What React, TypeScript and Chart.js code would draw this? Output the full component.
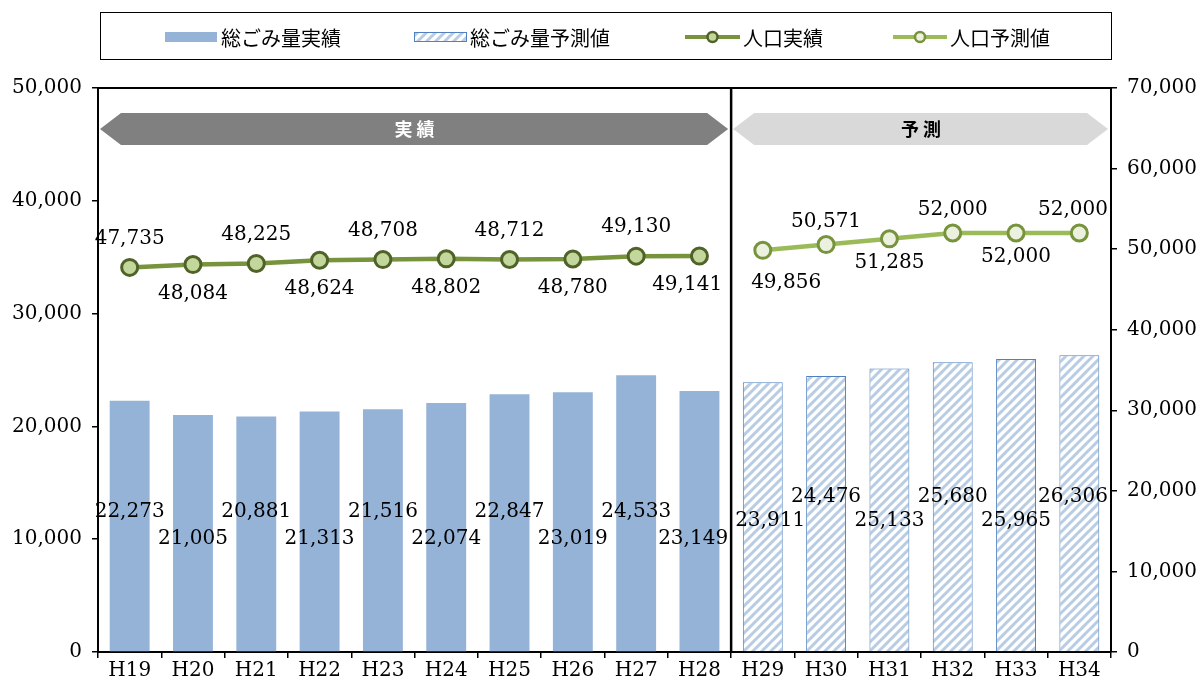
import React, { useEffect, useRef } from "react";
import { Chart, registerables } from "chart.js";

Chart.register(...registerables);

const categories = ["H19", "H20", "H21", "H22", "H23", "H24", "H25", "H26", "H27", "H28", "H29", "H30", "H31", "H32", "H33", "H34"];
const wasteActual = [22273, 21005, 20881, 21313, 21516, 22074, 22847, 23019, 24533, 23149];
const wasteForecast = [23911, 24476, 25133, 25680, 25965, 26306];
const popActual = [47735, 48084, 48225, 48624, 48708, 48802, 48712, 48780, 49130, 49141];
const popForecast = [49856, 50571, 51285, 52000, 52000, 52000];
const legendLabels = ["総ごみ量実績", "総ごみ量予測値", "人口実績", "人口予測値"];
const bannerLabels = ["実 績", "予 測"];

const nActual = wasteActual.length;
const pad = (n: number) => new Array(n).fill(null);
const fmt = (v: number) => v.toLocaleString("en-US");

const NUM_FONT = '20px "DejaVu Serif"';
const JP_FONT = '20px "Noto Sans CJK JP"';

function makePattern(): CanvasPattern | string {
  const c = document.createElement("canvas");
  const s = 9;
  c.width = s;
  c.height = s;
  const g = c.getContext("2d");
  if (!g) return "#b8cce4";
  g.fillStyle = "#ffffff";
  g.fillRect(0, 0, s, s);
  g.strokeStyle = "#b8cce4";
  g.lineWidth = 3;
  g.beginPath();
  g.moveTo(-2, s + 2);
  g.lineTo(s + 2, -2);
  g.moveTo(-2, 2);
  g.lineTo(2, -2);
  g.moveTo(s - 2, s + 2);
  g.lineTo(s + 2, s - 2);
  g.stroke();
  const p = g.createPattern(c, "repeat");
  return p || "#b8cce4";
}

function drawBanner(ctx: CanvasRenderingContext2D, x0: number, x1: number, yMid: number, h: number, tip: number, fill: string) {
  ctx.beginPath();
  ctx.moveTo(x0, yMid);
  ctx.lineTo(x0 + tip, yMid - h / 2);
  ctx.lineTo(x1 - tip, yMid - h / 2);
  ctx.lineTo(x1, yMid);
  ctx.lineTo(x1 - tip, yMid + h / 2);
  ctx.lineTo(x0 + tip, yMid + h / 2);
  ctx.closePath();
  ctx.fillStyle = fill;
  ctx.fill();
}

const customPlugin = {
  id: "custom",
  afterDatasetsDraw(chart: any) {
    const ctx: CanvasRenderingContext2D = chart.ctx;
    const area = chart.chartArea;
    const xs = chart.scales.x;
    const ys = chart.scales.y;
    const divX = (xs.getPixelForValue(nActual - 1) + xs.getPixelForValue(nActual)) / 2;

    ctx.save();
    // banners
    const yMid = area.top + 41;
    drawBanner(ctx, area.left + 2, divX - 3, yMid, 32, 21, "#808080");
    drawBanner(ctx, divX + 2, area.right - 3, yMid, 32, 21, "#d9d9d9");
    ctx.font = 'bold 18px "Noto Sans CJK JP"';
    ctx.textAlign = "center";
    ctx.textBaseline = "middle";
    ctx.fillStyle = "#ffffff";
    ctx.fillText(bannerLabels[0], (area.left + divX) / 2, yMid);
    ctx.fillStyle = "#000000";
    ctx.fillText(bannerLabels[1], (divX + area.right) / 2, yMid);

    // labels
    ctx.font = NUM_FONT;
    ctx.fillStyle = "#000000";
    const placeText = (text: string, cx: number, cy: number, forecast: boolean, mLeft: number, mRight: number) => {
      const w = ctx.measureText(text).width;
      let x = cx;
      if (!forecast) {
        if (x + w / 2 > divX - mLeft) x = divX - mLeft - w / 2;
      } else {
        if (x - w / 2 < divX + mRight) x = divX + mRight + w / 2;
        if (x + w / 2 > area.right - 3) x = area.right - 3 - w / 2;
      }
      ctx.fillText(text, x, cy);
    };

    // bar labels
    const barMetaA = chart.getDatasetMeta(0);
    const barMetaF = chart.getDatasetMeta(1);
    wasteActual.forEach((v, i) => {
      const el = barMetaA.data[i];
      const y = ys.getPixelForValue(i % 2 === 0 ? 12400 : 10000);
      placeText(fmt(v), el.x, y, false, 3, 4);
    });
    wasteForecast.forEach((v, j) => {
      const el = barMetaF.data[nActual + j];
      const y = ys.getPixelForValue(j % 2 === 0 ? 11600 : 13800);
      placeText(fmt(v), el.x, y, true, 3, 4);
    });

    // line labels
    const lineMetaA = chart.getDatasetMeta(2);
    const lineMetaF = chart.getDatasetMeta(3);
    popActual.forEach((v, i) => {
      const el = lineMetaA.data[i];
      const y = el.y + (i % 2 === 0 ? -29 : 29);
      placeText(fmt(v), el.x, y, false, 9, 20);
    });
    popForecast.forEach((v, j) => {
      const el = lineMetaF.data[nActual + j];
      const y = el.y + (j % 2 === 0 ? (j === 0 ? 32 : 24) : -23);
      placeText(fmt(v), el.x, y, true, 9, 20);
    });

    // divider & plot border
    ctx.strokeStyle = "#000000";
    ctx.lineWidth = 2.5;
    ctx.beginPath();
    ctx.moveTo(divX, area.top);
    ctx.lineTo(divX, area.bottom);
    ctx.stroke();
    ctx.lineWidth = 2;
    ctx.beginPath();
    ctx.moveTo(area.left, area.top);
    ctx.lineTo(area.right, area.top);
    ctx.stroke();
    ctx.restore();
  },
  afterDraw(chart: any) {
    const ctx: CanvasRenderingContext2D = chart.ctx;
    const ds = chart.data.datasets;
    ctx.save();
    // legend box
    ctx.strokeStyle = "#000000";
    ctx.lineWidth = 1;
    ctx.strokeRect(100.5, 12.5, 1011, 47);
    const cy = 37;
    ctx.font = JP_FONT;
    ctx.textAlign = "left";
    ctx.textBaseline = "middle";
    ctx.fillStyle = "#000000";

    // item 1: solid bar
    ctx.fillStyle = ds[0].backgroundColor;
    ctx.fillRect(165, cy - 5, 52, 10);
    ctx.fillStyle = "#000000";
    ctx.fillText(legendLabels[0], 221, cy + 1);

    // item 2: hatched bar
    ctx.fillStyle = ds[1].backgroundColor;
    ctx.fillRect(414, cy - 5, 53, 10);
    ctx.strokeStyle = ds[1].borderColor;
    ctx.lineWidth = 1;
    ctx.strokeRect(414.5, cy - 4.5, 52, 9);
    ctx.fillStyle = "#000000";
    ctx.fillText(legendLabels[1], 470, cy + 1);

    // items 3,4: lines
    const drawLineItem = (d: any, x0: number, x1: number, tx: number, label: string) => {
      ctx.strokeStyle = d.borderColor;
      ctx.lineWidth = 4;
      ctx.beginPath();
      ctx.moveTo(x0, cy);
      ctx.lineTo(x1, cy);
      ctx.stroke();
      ctx.beginPath();
      ctx.arc((x0 + x1) / 2, cy, 5, 0, Math.PI * 2);
      ctx.fillStyle = d.pointBackgroundColor;
      ctx.fill();
      ctx.lineWidth = 2.5;
      ctx.strokeStyle = d.pointBorderColor;
      ctx.stroke();
      ctx.fillStyle = "#000000";
      ctx.fillText(label, tx, cy + 1);
    };
    drawLineItem(ds[2], 685, 740, 743, legendLabels[2]);
    drawLineItem(ds[3], 893, 947, 950, legendLabels[3]);
    ctx.restore();
  },
};

export default function App() {
  const ref = useRef<HTMLCanvasElement | null>(null);

  useEffect(() => {
    if (!ref.current) return;
    const pattern = makePattern();
    const chart = new Chart(ref.current, {
      type: "bar",
      data: {
        labels: categories,
        datasets: [
          {
            type: "bar",
            label: legendLabels[0],
            data: [...wasteActual, ...pad(wasteForecast.length)],
            backgroundColor: "#95b3d7",
            borderWidth: 0,
            yAxisID: "y",
            order: 2,
            grouped: false,
            categoryPercentage: 1,
            barPercentage: 0.63,
          } as any,
          {
            type: "bar",
            label: legendLabels[1],
            data: [...pad(nActual), ...wasteForecast],
            backgroundColor: pattern,
            borderColor: "#4f81bd",
            borderWidth: 1,
            yAxisID: "y",
            order: 2,
            grouped: false,
            categoryPercentage: 1,
            barPercentage: 0.63,
          } as any,
          {
            type: "line",
            label: legendLabels[2],
            data: [...popActual, ...pad(popForecast.length)],
            borderColor: "#77933c",
            borderWidth: 4.5,
            pointRadius: 8,
            pointBackgroundColor: "#c3d69b",
            pointBorderColor: "#4f6228",
            pointBorderWidth: 3,
            yAxisID: "y1",
            order: 0,
            spanGaps: false,
          } as any,
          {
            type: "line",
            label: legendLabels[3],
            data: [...pad(nActual), ...popForecast],
            borderColor: "#9bbb59",
            borderWidth: 4.5,
            pointRadius: 8,
            pointBackgroundColor: "#ebf1de",
            pointBorderColor: "#77933c",
            pointBorderWidth: 3,
            yAxisID: "y1",
            order: 0,
            spanGaps: false,
          } as any,
        ],
      },
      options: {
        responsive: false,
        animation: false,
        layout: { padding: { top: 88, left: 0, right: 0, bottom: 0 } },
        plugins: {
          legend: { display: false },
          tooltip: { enabled: false },
        },
        scales: {
          x: {
            offset: true,
            grid: {
              display: true,
              offset: true,
              drawOnChartArea: false,
              drawTicks: true,
              tickLength: 6,
              color: "#000000",
              lineWidth: 1.5,
            },
            border: { display: true, color: "#000000", width: 2 },
            ticks: {
              color: "#000000",
              font: { family: "DejaVu Serif", size: 20 },
              padding: 1,
              maxRotation: 0,
              autoSkip: false,
            },
            afterFit: (s: any) => {
              s.height = 29;
            },
          },
          y: {
            position: "left",
            min: 0,
            max: 50000,
            grid: {
              display: true,
              drawOnChartArea: false,
              drawTicks: true,
              tickLength: 6,
              color: "#000000",
              lineWidth: 1.5,
            },
            border: { display: true, color: "#000000", width: 2 },
            ticks: {
              stepSize: 10000,
              color: "#000000",
              padding: 10,
              font: { family: "DejaVu Serif", size: 20 },
              callback: (v: any) => fmt(Number(v)),
            },
            afterFit: (s: any) => {
              s.width = 98;
            },
          },
          y1: {
            position: "right",
            min: 0,
            max: 70000,
            grid: {
              display: true,
              drawOnChartArea: false,
              drawTicks: true,
              tickLength: 6,
              color: "#000000",
              lineWidth: 1.5,
            },
            border: { display: true, color: "#000000", width: 2 },
            ticks: {
              stepSize: 10000,
              color: "#000000",
              padding: 10,
              font: { family: "DejaVu Serif", size: 20 },
              callback: (v: any) => fmt(Number(v)),
            },
            afterFit: (s: any) => {
              s.width = 91;
            },
          },
        },
      },
      plugins: [customPlugin],
    });
    return () => chart.destroy();
  }, []);

  return (
    <div style={{ position: "absolute", left: 0, top: 0, width: 1202, height: 681, background: "#ffffff" }}>
      <canvas ref={ref} width={1202} height={681} style={{ display: "block" }} />
    </div>
  );
}
